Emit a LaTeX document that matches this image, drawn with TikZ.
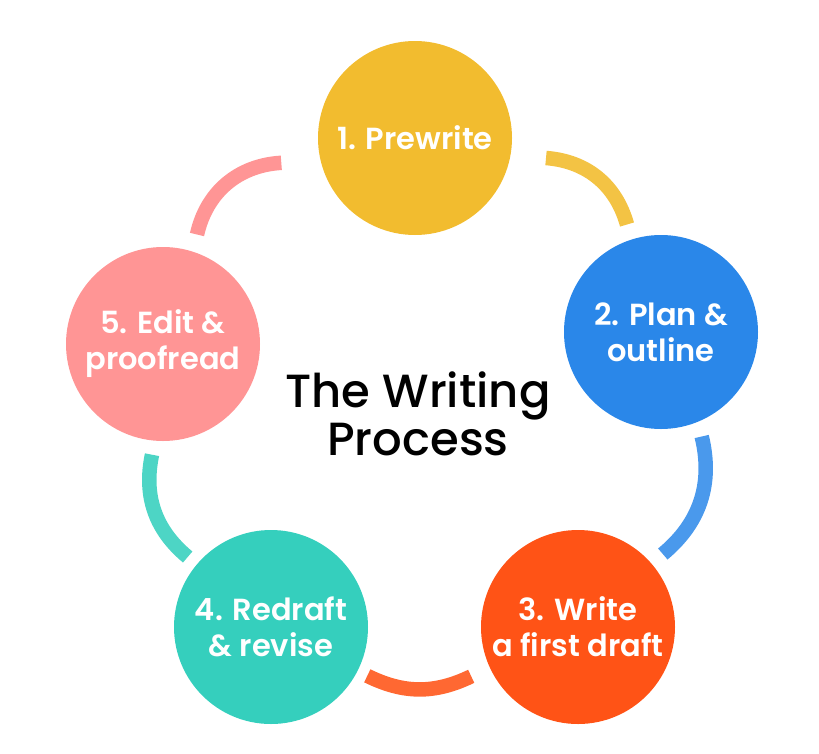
\documentclass[tikz,border=0pt]{standalone}
\usepackage{fontspec}
\setmainfont{Poppins}[FontFace={mb}{n}{Poppins Medium}, FontFace={sb}{n}{Poppins SemiBold}]

\definecolor{prewriteyellow}{HTML}{F2BC2F}
\definecolor{planblue}{HTML}{2A87E9}
\definecolor{draftorange}{HTML}{FF5316}
\definecolor{redraftteal}{HTML}{35CFBD}
\definecolor{editpink}{HTML}{FF9595}

\begin{document}
\begin{tikzpicture}[x=1pt, y=-1pt,
  stepcircle/.style={circle, minimum size=194pt, inner sep=0pt, align=center,
    text=white, font=\fontseries{sb}\fontsize{30.5}{36}\selectfont},
  ringarc/.style={line width=14.5pt}]
\useasboundingbox (0,0) rectangle (819,753);

% Steps
\node[stepcircle, fill=prewriteyellow] (prewrite) at (415,138) {1. Prewrite};
\node[stepcircle, fill=planblue] (plan) at (661,332) {2. Plan \&\\outline};
\node[stepcircle, fill=draftorange] (draft) at (578,627) {3. Write\\a first draft};
\node[stepcircle, fill=redraftteal] (redraft) at (271,627) {4. Redraft\\\& revise};
\node[stepcircle, fill=editpink] (edit) at (163,344) {5. Edit \&\\proofread};

% Title
\node[align=center, font=\fontseries{mb}\fontsize{46.5}{48}\selectfont] (title) at (418,414) {The Writing\\Process};

% Arc ends
\coordinate (prewriteout) at (546,158);
\coordinate (planin) at (627,224.5);
\coordinate (planout) at (701.7,436.5);
\coordinate (draftin) at (662.8,554);
\coordinate (draftout) at (471.2,676.3);
\coordinate (redraftin) at (367.3,675.8);
\coordinate (redraftout) at (187.7,557);
\coordinate (editin) at (152,454.7);
\coordinate (editout) at (197,234.5);
\coordinate (prewritein) at (281.3,162.8);

% Ring
\draw[ringarc, prewriteyellow!90!white] (prewriteout) to[bend left=35] (planin);
\draw[ringarc, planblue!85!white] (planout) to[bend left=32] (draftin);
\draw[ringarc, draftorange!88!white] (draftout) to[bend left=26] (redraftin);
\draw[ringarc, redraftteal!88!white] (redraftout) to[bend left=31] (editin);
\draw[ringarc, editpink] (editout) to[bend left=37] (prewritein);
\end{tikzpicture}
\end{document}
